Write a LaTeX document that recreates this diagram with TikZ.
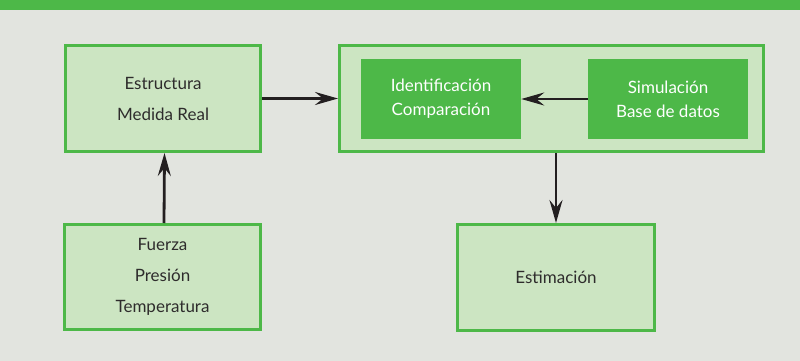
\documentclass[tikz,border=0pt]{standalone}
\usepackage{fontspec}
\setmainfont{Lato}
\usetikzlibrary{arrows.meta}
\definecolor{leaf}{HTML}{4DB848}
\definecolor{mint}{HTML}{CCE5C2}
\definecolor{paper}{HTML}{E2E4DF}
\definecolor{ink}{HTML}{2E2C2C}
\definecolor{shaft}{HTML}{231F20}
\tikzset{
  x=1pt, y=-1pt,
  lightbox/.style={draw=leaf, line width=3pt, fill=mint, inner sep=0pt,
    text=ink, align=center, font=\fontsize{17}{31}\selectfont},
  solidbox/.style={fill=leaf, draw=none, inner sep=0pt, text=white,
    align=center, font=\fontsize{17}{24}\selectfont,
    minimum width=160pt, minimum height=80pt},
  flow/.style={draw=shaft, line width=2.8pt,
    -{Stealth[length=23pt, width=13pt, inset=8pt]}}
}
\begin{document}
\begin{tikzpicture}
  % page background and top band
  \fill[paper] (0,0) rectangle (800,361);
  \fill[leaf] (0,0) rectangle (800,10);
  \useasboundingbox (0,0) rectangle (800,361);

  % boxes
  \node[lightbox, minimum width=195pt, minimum height=106pt] (real) at (163,98.5)
    {Estructura\\Medida Real};
  \node[lightbox, minimum width=424pt, minimum height=106pt] (proc) at (551.5,98.5) {};
  \node[solidbox] (ident) at (441,99) {Identificación\\Comparación};
  \node[solidbox] (sim) at (668,99) {Simulación\\Base de datos};
  \node[lightbox, minimum width=196pt, minimum height=105pt] (load) at (162.5,277)
    {Fuerza\\Presión\\Temperatura};
  \node[lightbox, minimum width=197pt, minimum height=106pt] (est) at (556,277.5)
    {Estimación};

  % connectors
  \draw[flow] (real.east) -- (proc.west);
  \draw[flow] (sim.west) -- (ident.east);
  \draw[flow] ([xshift=1.5pt]load.north) -- ([xshift=1.5pt]real.south);
  \draw[flow] (proc.south -| est.north) -- (est.north);
\end{tikzpicture}
\end{document}
